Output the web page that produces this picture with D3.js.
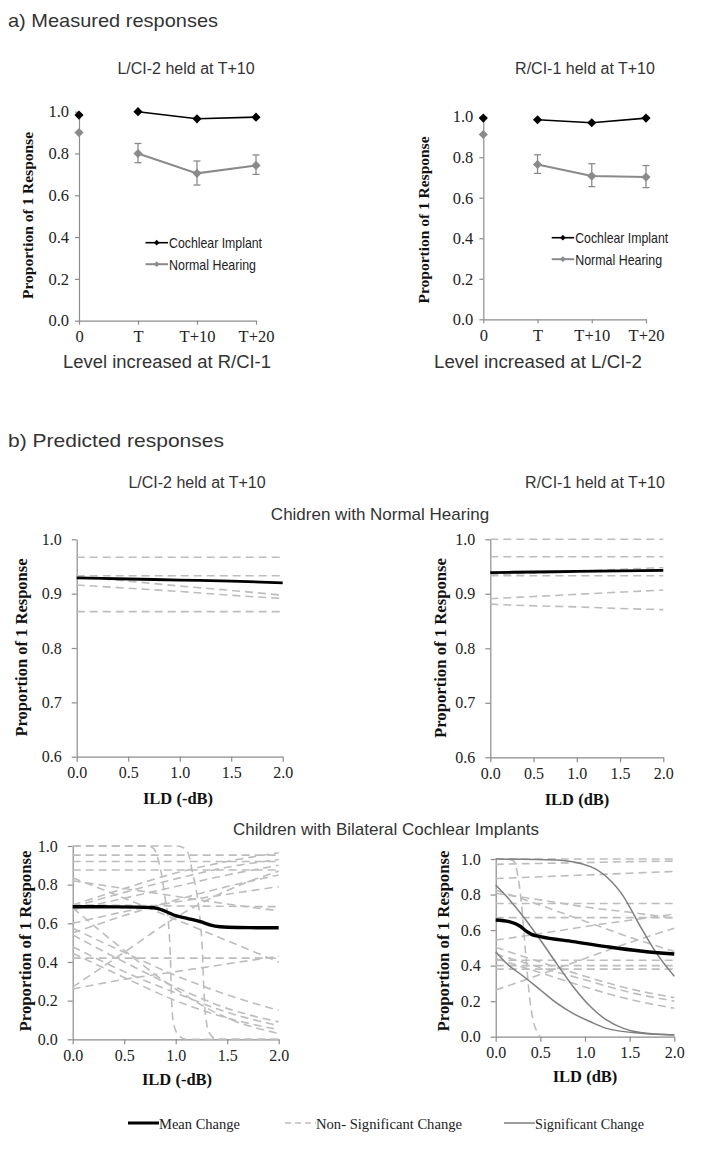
<!DOCTYPE html>
<html><head><meta charset="utf-8">
<script src="https://cdn.jsdelivr.net/npm/d3@7"></script>
<style>body{margin:0;background:#fff}</style>
</head><body><svg id="c" width="707" height="1150"></svg>
<script>
// ---------- DATA ----------
const levelCategories = ["0", "T", "T+10", "T+20"];
// a) measured, left (level increased at R/CI-1)
const ciMeasuredLeft = [0.984, 1.0, 0.966, 0.974];
const nhMeasuredLeft = [0.90, 0.80, 0.705, 0.743];
const nhLeftLow = [null, 0.756, 0.649, 0.70];
const nhLeftHigh = [null, 0.848, 0.764, 0.793];
// a) measured, right (level increased at L/CI-2)
const ciMeasuredRight = [0.993, 0.985, 0.970, 0.993];
const nhMeasuredRight = [0.912, 0.764, 0.707, 0.702];
const nhRightLow = [null, 0.72, 0.655, 0.65];
const nhRightHigh = [null, 0.812, 0.768, 0.759];

const yTicksMeasured = [0, 0.2, 0.4, 0.6, 0.8, 1.0];
const yTicksNH = [0.6, 0.7, 0.8, 0.9, 1.0];
const yTicksCI = [0, 0.2, 0.4, 0.6, 0.8, 1.0];
const ildTicks = [0, 0.5, 1.0, 1.5, 2.0];

// b) predicted, normal hearing (values at ildTicks)
const nhLeftMean = [0.929, 0.927, 0.925, 0.923, 0.920];
const nhLeftNonSig = [
  [0.967, 0.967, 0.967, 0.967, 0.967],
  [0.933, 0.933, 0.933, 0.933, 0.933],
  [0.931, 0.923, 0.914, 0.906, 0.897],
  [0.916, 0.910, 0.904, 0.897, 0.891],
  [0.867, 0.867, 0.867, 0.867, 0.867]
];
const nhRightMean = [0.939, 0.940, 0.941, 0.942, 0.943];
const nhRightNonSig = [
  [1.0, 1.0, 1.0, 1.0, 1.0],
  [0.968, 0.968, 0.968, 0.968, 0.968],
  [0.935, 0.938, 0.941, 0.945, 0.948],
  [0.933, 0.933, 0.933, 0.933, 0.933],
  [0.891, 0.895, 0.899, 0.903, 0.907],
  [0.881, 0.878, 0.876, 0.873, 0.871]
];

// b) predicted, bilateral CI, left (ILD -dB)
const ciLeftMean = [[0, 0.686], [0.4, 0.685], [0.75, 0.682], [0.82, 0.677], [0.91, 0.66], [0.98, 0.643],
  [1.11, 0.626], [1.24, 0.609], [1.33, 0.592], [1.43, 0.582], [1.6, 0.578], [2.0, 0.577]];
const ciLeftNonSig = [
  [0.953, 0.953, 0.953, 0.953, 0.953],
  [0.92, 0.92, 0.92, 0.92, 0.92],
  [0.876, 0.876, 0.876, 0.876, 0.876],
  [0.695, 0.78, 0.86, 0.92, 0.965],
  [0.685, 0.76, 0.83, 0.89, 0.93],
  [0.67, 0.73, 0.79, 0.85, 0.90],
  [0.55, 0.64, 0.72, 0.79, 0.85],
  [0.27, 0.45, 0.63, 0.77, 0.87],
  [0.60, 0.66, 0.71, 0.75, 0.79],
  [0.82, 0.78, 0.74, 0.70, 0.665],
  [0.695, 0.693, 0.69, 0.688, 0.686],
  [0.835, 0.73, 0.62, 0.51, 0.40],
  [0.26, 0.31, 0.35, 0.39, 0.43],
  [0.42, 0.42, 0.42, 0.42, 0.42],
  [0.574, 0.45, 0.33, 0.23, 0.15],
  [0.54, 0.40, 0.27, 0.16, 0.09],
  [0.479, 0.35, 0.24, 0.14, 0.07],
  [0.445, 0.32, 0.20, 0.11, 0.05],
  [0.68, 0.46, 0.26, 0.11, 0.03]
];
const ciLeftNonSigCurves = [
  [[0, 1.0], [0.7, 1.0], [0.78, 0.99], [0.83, 0.93], [0.87, 0.83], [0.9, 0.72], [0.93, 0.6], [0.95, 0.4],
   [0.96, 0.2], [0.98, 0.08], [1.03, 0.02], [1.1, 0.0], [2.0, 0.0]],
  [[0, 1.0], [1.0, 1.0], [1.08, 0.99], [1.13, 0.95], [1.16, 0.87], [1.2, 0.77], [1.24, 0.6], [1.26, 0.45],
   [1.27, 0.3], [1.29, 0.12], [1.33, 0.03], [1.4, 0.0], [2.0, 0.0]]
];

// b) predicted, bilateral CI, right (ILD dB)
const ciRightMean = [[0, 0.657], [0.15, 0.648], [0.27, 0.623], [0.33, 0.598], [0.4, 0.576], [0.5, 0.563],
  [0.87, 0.535], [1.24, 0.507], [1.62, 0.482], [2.0, 0.465]];
const ciRightNonSig = [
  [1.0, 1.0, 1.0, 1.0, 1.0],
  [0.97, 0.975, 0.98, 0.985, 0.988],
  [0.89, 0.90, 0.91, 0.92, 0.93],
  [0.826, 0.74, 0.65, 0.56, 0.48],
  [0.807, 0.77, 0.73, 0.70, 0.666],
  [0.75, 0.75, 0.75, 0.75, 0.75],
  [0.67, 0.67, 0.67, 0.67, 0.67],
  [0.544, 0.58, 0.62, 0.655, 0.69],
  [0.263, 0.35, 0.44, 0.53, 0.61],
  [0.43, 0.43, 0.43, 0.43, 0.43],
  [0.40, 0.40, 0.40, 0.40, 0.40],
  [0.38, 0.38, 0.38, 0.38, 0.38],
  [0.503, 0.42, 0.34, 0.27, 0.22],
  [0.465, 0.39, 0.32, 0.25, 0.20],
  [0.44, 0.36, 0.28, 0.21, 0.16]
];
const ciRightNonSigCurves = [
  [[0, 1.0], [0.15, 0.998], [0.2, 0.99], [0.25, 0.9], [0.29, 0.74], [0.32, 0.56], [0.35, 0.38], [0.38, 0.22],
   [0.42, 0.09], [0.46, 0.03], [0.5, 0.0]]
];
const ciRightSig = [
  [[0, 1.0], [0.68, 0.994], [1.06, 0.957], [1.24, 0.90], [1.43, 0.79], [1.62, 0.62], [1.80, 0.47], [2.0, 0.34]],
  [[0, 0.854], [0.12, 0.79], [0.31, 0.675], [0.5, 0.544], [0.68, 0.413], [0.87, 0.28], [1.06, 0.17], [1.24, 0.094],
   [1.43, 0.047], [1.62, 0.023], [2.0, 0.009]],
  [[0, 0.478], [0.12, 0.413], [0.31, 0.34], [0.5, 0.263], [0.68, 0.19], [0.87, 0.13], [1.06, 0.084], [1.24, 0.047],
   [1.62, 0.019], [2.0, 0.01]]
];

// ---------- DRAWING ----------
const svg = d3.select('#c');
const SERIF = "'Liberation Serif','Times New Roman',serif";
const SANS = "'Liberation Sans',Arial,sans-serif";
const AXC = '#8c8c8c';

function text(x, y, s, opts) {
  const t = svg.append('text').attr('x', x).attr('y', y).text(s)
    .attr('font-family', opts.family || SANS).attr('font-size', opts.size || 16)
    .attr('fill', opts.fill || '#333').attr('text-anchor', opts.anchor || 'start')
    .attr('dominant-baseline', 'central');
  if (opts.bold) t.attr('font-weight', 'bold');
  if (opts.len) t.attr('textLength', opts.len).attr('lengthAdjust', 'spacingAndGlyphs');
  if (opts.rotate) t.attr('transform', `rotate(-90,${x},${y})`);
  return t;
}

function styleAxis(g, size) {
  g.attr('font-family', SERIF).attr('font-size', size || 16);
  g.select('.domain').attr('stroke', AXC).attr('stroke-width', 1.2);
  g.selectAll('.tick line').attr('stroke', AXC).attr('stroke-width', 1.2);
  g.selectAll('.tick text').attr('fill', '#222');
}

const fmt = d3.format('.1f');

// ----- a) measured panels -----
function measured(cfg) {
  const x = d3.scalePoint().domain(levelCategories).range([cfg.x0, cfg.x1]);
  const y = d3.scaleLinear().domain([0, 1]).range([cfg.yb, cfg.yt]);
  const gx = svg.append('g').attr('transform', `translate(0,${cfg.yb})`)
    .call(d3.axisBottom(x).tickSize(4).tickSizeOuter(0).tickPadding(6));
  styleAxis(gx, 16.5);
  const gy = svg.append('g').attr('transform', `translate(${cfg.x0},0)`)
    .call(d3.axisLeft(y).tickValues(yTicksMeasured).tickFormat(fmt).tickSize(4).tickSizeOuter(0).tickPadding(6));
  styleAxis(gy, 16.5);

  const diamond = d3.symbol().type(d3.symbolSquare).size(42);
  const line = d3.line().x(d => x(d.c)).y(d => y(d.v));
  const series = [
    {vals: cfg.nh, color: '#8a8a8a', w: 2},
    {vals: cfg.ci, color: '#000', w: 1.6}
  ];
  // error bars
  levelCategories.forEach((c, i) => {
    if (cfg.lo[i] == null) return;
    const g = svg.append('g').attr('stroke', '#8a8a8a').attr('stroke-width', 1.3);
    g.append('line').attr('x1', x(c)).attr('x2', x(c)).attr('y1', y(cfg.lo[i])).attr('y2', y(cfg.hi[i]));
    g.append('line').attr('x1', x(c) - 3.5).attr('x2', x(c) + 3.5).attr('y1', y(cfg.lo[i])).attr('y2', y(cfg.lo[i]));
    g.append('line').attr('x1', x(c) - 3.5).attr('x2', x(c) + 3.5).attr('y1', y(cfg.hi[i])).attr('y2', y(cfg.hi[i]));
  });
  series.forEach(s => {
    const pts = s.vals.map((v, i) => ({c: levelCategories[i], v}));
    svg.append('path').datum(pts.slice(1)).attr('d', line).attr('fill', 'none')
      .attr('stroke', s.color).attr('stroke-width', s.w);
    svg.selectAll(null).data(pts).enter().append('path')
      .attr('d', diamond).attr('fill', s.color)
      .attr('transform', d => `translate(${x(d.c)},${y(d.v)}) rotate(45)`);
  });
  // legend
  const lg = [{name: 'Cochlear Implant', color: '#000', w: 1.6, y: cfg.legY},
              {name: 'Normal Hearing', color: '#8a8a8a', w: 2, y: cfg.legY + 21.5}];
  const small = d3.symbol().type(d3.symbolSquare).size(16);
  lg.forEach(l => {
    svg.append('line').attr('x1', cfg.legX).attr('x2', cfg.legX + 22.5).attr('y1', l.y).attr('y2', l.y)
      .attr('stroke', l.color).attr('stroke-width', l.w);
    svg.append('path').attr('d', small).attr('fill', l.color)
      .attr('transform', `translate(${cfg.legX + 11.2},${l.y}) rotate(45)`);
    text(cfg.legX + 23.5, l.y, l.name, {size: 15, fill: '#222', len: l.name === 'Cochlear Implant' ? 93 : 87});
  });
  text(cfg.titleX, 68, cfg.title, {size: 16, anchor: 'middle', fill: '#333'});
  text(cfg.xtX, 362, cfg.xt, {size: 17.5, anchor: 'middle', fill: '#333', len: 208});
  text(cfg.ytX, cfg.ytY, 'Proportion of 1 Response', {family: SERIF, size: 15.5, bold: true, anchor: 'middle', fill: '#111', rotate: true, len: 167});
}

measured({x0: 79, x1: 256, yb: 320.7, yt: 111.7, ci: ciMeasuredLeft, nh: nhMeasuredLeft, lo: nhLeftLow, hi: nhLeftHigh,
  legX: 145.5, legY: 242.7, title: 'L/CI-2 held at T+10', titleX: 186, xt: 'Level increased at R/CI-1', xtX: 167,
  ytX: 27, ytY: 215.5});
measured({x0: 483.3, x1: 646, yb: 319.3, yt: 116.7, ci: ciMeasuredRight, nh: nhMeasuredRight, lo: nhRightLow, hi: nhRightHigh,
  legX: 551.7, legY: 237.7, title: 'R/CI-1 held at T+10', titleX: 585, xt: 'Level increased at L/CI-2', xtX: 538,
  ytX: 423, ytY: 220});

// ----- b) predicted panels -----
function predicted(cfg) {
  const x = d3.scaleLinear().domain([0, 2]).range([cfg.x0, cfg.x1]);
  const y = d3.scaleLinear().domain(cfg.ydom).range([cfg.yb, cfg.yt]);
  const gx = svg.append('g').attr('transform', `translate(0,${cfg.yb})`)
    .call(d3.axisBottom(x).tickValues(ildTicks).tickFormat(fmt).tickSize(5).tickSizeOuter(0).tickPadding(5));
  styleAxis(gx, 16);
  const gy = svg.append('g').attr('transform', `translate(${cfg.x0},0)`)
    .call(d3.axisLeft(y).tickValues(cfg.yticks).tickFormat(fmt).tickSize(5).tickSizeOuter(0).tickPadding(10));
  styleAxis(gy, 16);

  const line = d3.line().x(d => x(d[0])).y(d => y(d[1])).curve(d3.curveMonotoneX);
  const toPairs = vals => vals.map((v, i) => [ildTicks[i], v]);
  const dashed = cfg.nonSig.map(toPairs).concat(cfg.nonSigCurves || []);
  svg.append('g').selectAll('path').data(dashed).enter().append('path')
    .attr('d', line).attr('fill', 'none').attr('stroke', '#bdbdbd').attr('stroke-width', 1.6)
    .attr('stroke-dasharray', '8,5');
  svg.append('g').selectAll('path').data(cfg.sig || []).enter().append('path')
    .attr('d', line).attr('fill', 'none').attr('stroke', '#7f7f7f').attr('stroke-width', 1.5);
  const meanPairs = typeof cfg.mean[0] === 'number' ? toPairs(cfg.mean) : cfg.mean;
  svg.append('path').datum(meanPairs).attr('d', line).attr('fill', 'none')
    .attr('stroke', '#000').attr('stroke-width', cfg.meanW);

  text(cfg.ytX, cfg.ytY, 'Proportion of 1 Response', {family: SERIF, size: 16.5, bold: true, anchor: 'middle', fill: '#111', rotate: true, len: cfg.ytLen});
  text(cfg.xtX, cfg.xtY, cfg.xt, {family: SERIF, size: 16.5, bold: true, anchor: 'middle', fill: '#111'});
}

predicted({x0: 76.7, x1: 282.7, yb: 756.7, yt: 539.3, ydom: [0.6, 1.0], yticks: yTicksNH,
  mean: nhLeftMean, nonSig: nhLeftNonSig, meanW: 2.8, ytX: 21.7, ytY: 647.5, ytLen: 178,
  xt: 'ILD (-dB)', xtX: 178, xtY: 798});
predicted({x0: 490.3, x1: 663.3, yb: 757.3, yt: 539.3, ydom: [0.6, 1.0], yticks: yTicksNH,
  mean: nhRightMean, nonSig: nhRightNonSig, meanW: 2.8, ytX: 440, ytY: 648, ytLen: 180,
  xt: 'ILD (dB)', xtX: 577, xtY: 799});
predicted({x0: 72.7, x1: 278.7, yb: 1039.3, yt: 846, ydom: [0, 1.0], yticks: yTicksCI,
  mean: ciLeftMean, nonSig: ciLeftNonSig, nonSigCurves: ciLeftNonSigCurves, meanW: 3.4,
  ytX: 25, ytY: 941, ytLen: 181, xt: 'ILD (-dB)', xtX: 177, xtY: 1079});
predicted({x0: 495.7, x1: 674.3, yb: 1036.7, yt: 859, ydom: [0, 1.0], yticks: yTicksCI,
  mean: ciRightMean, nonSig: ciRightNonSig, nonSigCurves: ciRightNonSigCurves, sig: ciRightSig, meanW: 3.4,
  ytX: 443, ytY: 941, ytLen: 181, xt: 'ILD (dB)', xtX: 585, xtY: 1076});

// headings
text(8, 20, 'a) Measured responses', {size: 19, fill: '#333', len: 210});
text(8, 440, 'b) Predicted responses', {size: 19, fill: '#333', len: 216});
text(197, 482, 'L/CI-2 held at T+10', {size: 16, anchor: 'middle', fill: '#333'});
text(595, 482, 'R/CI-1 held at T+10', {size: 16, anchor: 'middle', fill: '#333'});
text(380, 514, 'Chidren with Normal Hearing', {size: 17, anchor: 'middle', fill: '#333'});
text(386, 829, 'Children with Bilateral Cochlear Implants', {size: 17, anchor: 'middle', fill: '#333'});

// bottom legend
const legendItems = [
  {name: 'Mean Change', x: 128, color: '#000', w: 3, dash: null, len: 81},
  {name: 'Non- Significant Change', x: 285, color: '#bdbdbd', w: 1.6, dash: '6,4', len: 146},
  {name: 'Significant Change', x: 504, color: '#7f7f7f', w: 1.5, dash: null, len: 109}
];
legendItems.forEach(l => {
  const ln = svg.append('line').attr('x1', l.x).attr('x2', l.x + 31).attr('y1', 1123).attr('y2', 1123)
    .attr('stroke', l.color).attr('stroke-width', l.w);
  if (l.dash) ln.attr('stroke-dasharray', l.dash);
  text(l.x + 31, 1124, l.name, {family: SERIF, size: 15, fill: '#222', len: l.len});
});
</script></body></html>
